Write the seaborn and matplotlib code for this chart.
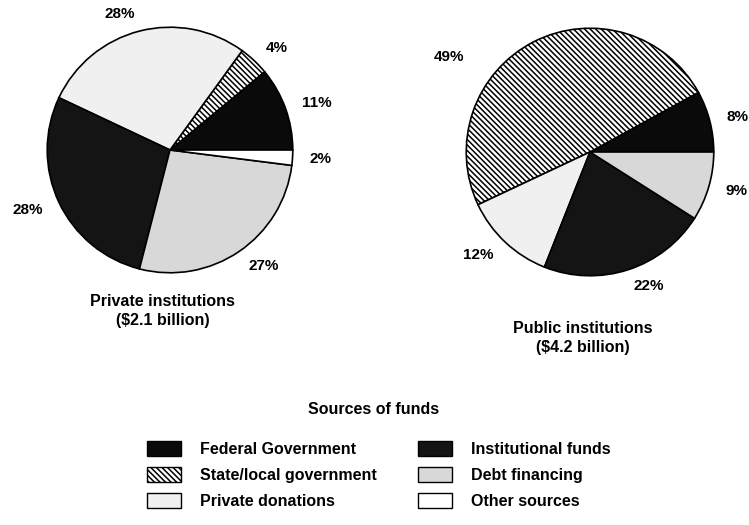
import matplotlib
matplotlib.use("Agg")
import matplotlib.pyplot as plt
from matplotlib.patches import Patch
import numpy as np
import seaborn as sns

# Sources of funds (same order in both pies, counterclockwise from 3 o'clock)
sources = ["Federal Government", "State/local government", "Private donations",
           "Institutional funds", "Debt financing", "Other sources"]
private_pct = [11, 4, 28, 28, 27, 2]
public_pct = [8, 49, 12, 22, 9, 0]

private_title = "Private institutions\n($2.1 billion)"
public_title = "Public institutions\n($4.2 billion)"

sns.set_theme(style="white")
plt.rcParams["font.family"] = ["Liberation Sans", "DejaVu Sans"]
plt.rcParams["font.weight"] = "bold"
plt.rcParams["text.color"] = "black"
plt.rcParams["hatch.linewidth"] = 1.1

faces = ["#0a0a0a", "white", "#f0f0f0", "#141414", "#d8d8d8", "white"]
hatches = ["", "\\\\\\\\\\\\", "", "", "", ""]

W, H = 749, 525
fig = plt.figure(figsize=(W / 100, H / 100), dpi=100)
fig.patch.set_facecolor("white")


def draw_pie(cx, cy, r, values, title, title_y):
    ax = fig.add_axes([(cx - r) / W, 1 - (cy + r) / H, 2 * r / W, 2 * r / H])
    vals = [v for v in values if v > 0]
    idx = [i for i, v in enumerate(values) if v > 0]
    wedges, texts = ax.pie(
        vals, labels=[f"{v}%" for v in vals], startangle=0, counterclock=True,
        colors=[faces[i] for i in idx], labeldistance=1.14,
        wedgeprops=dict(edgecolor="black", linewidth=1.2),
        textprops=dict(fontsize=11, fontweight="bold", color="black"))
    for w, i in zip(wedges, idx):
        w.set_hatch(hatches[i])
    ax.set_xlim(-1.01, 1.01)
    ax.set_ylim(-1.01, 1.01)
    ax.set_aspect("equal")
    ax.axis("off")
    fig.text(cx / W - 0.01, 1 - title_y / H, title, ha="center", va="center",
             fontsize=11.5, fontweight="bold", linespacing=1.35, color="black")
    return ax, wedges, texts


ax1, w1, t1 = draw_pie(170, 150, 124, private_pct, private_title, 311)
ax2, w2, t2 = draw_pie(590, 152, 125, public_pct, public_title, 338)

# the 49% label sits further round to the left in the original
a = np.deg2rad(143)
t2[1].set_position((1.27 * np.cos(a), 1.27 * np.sin(a)))

fig.text(374 / W, 1 - 410 / H, "Sources of funds", ha="center", va="center",
         fontsize=11.5, fontweight="bold", color="black")

handles = [Patch(facecolor=faces[i], edgecolor="black", hatch=hatches[i],
                 linewidth=1.0, label=sources[i]) for i in range(len(sources))]
leg = fig.legend(handles=handles, ncol=2, loc="upper left",
                 bbox_to_anchor=(147 / W, 1 - 441 / H), frameon=False,
                 prop=dict(size=11.5, weight="bold"), handlelength=2.1,
                 handleheight=1.1, handletextpad=1.2, labelspacing=0.62,
                 columnspacing=2.6, borderpad=0, borderaxespad=0)
for t in leg.get_texts():
    t.set_color("black")

fig.savefig("out.png", dpi=100, facecolor="white")
